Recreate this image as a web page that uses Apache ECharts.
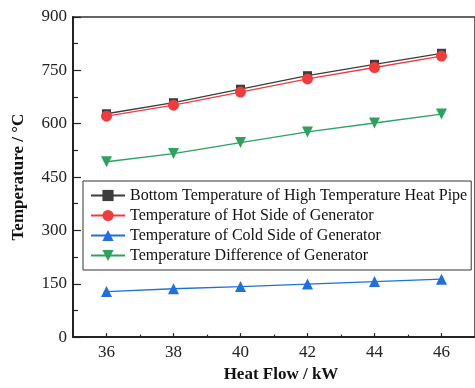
<!DOCTYPE html>
<html>
<head>
<meta charset="utf-8">
<script src="https://cdn.jsdelivr.net/npm/echarts@6/dist/echarts.min.js"></script>
<style>
  html, body { margin: 0; padding: 0; background: #fff; }
  #chart { width: 475px; height: 388px; }
</style>
</head>
<body>
<div id="chart"></div>
<script>
var heatFlow = [36, 38, 40, 42, 44, 46]
var bottomPipe = [628, 659, 697, 735, 767, 798]
var hotSide = [621, 652, 689, 726, 758, 790]
var coldSide = [128, 136, 142, 149, 156, 163]
var tempDiff = [493, 516, 547, 577, 602, 627]
var xMajor = [36, 38, 40, 42, 44, 46]
var xMinor = [37, 39, 41, 43, 45, 47]

var names = [
  'Bottom Temperature of High Temperature Heat Pipe',
  'Temperature of Hot Side of Generator',
  'Temperature of Cold Side of Generator',
  'Temperature Difference of Generator'
]

function pairs(ys) {
  return heatFlow.map(function(x, i) { return [x, ys[i]] })
}

var font = 'Liberation Serif, Times New Roman, serif'

var chart = echarts.init(document.getElementById('chart'))
chart.setOption({
  animation: false,
  textStyle: { fontFamily: font },
  grid: {
    left: 73,
    top: 17,
    bottom: 45,
    right: -5,
    show: true,
    borderColor: '#333',
    borderWidth: 1.5
  },
  legend: {
    orient: 'vertical',
    left: 83,
    top: 181,
    padding: [6.5, 4, 6.5, 7],
    itemWidth: 34,
    itemHeight: 14,
    itemGap: 4,
    borderColor: '#333',
    borderWidth: 1,
    selectedMode: false,
    backgroundColor: '#fff',
    textStyle: { fontFamily: font, fontSize: 16, color: '#111', lineHeight: 16 },
    data: names
  },
  xAxis: [
    {
      type: 'value',
      min: 35,
      max: 47,
      interval: 1,
      name: 'Heat Flow / kW',
      nameLocation: 'middle',
      nameGap: 25,
      nameTextStyle: { fontFamily: font, fontSize: 17, fontWeight: 'bold', color: '#111', padding: [0, 0, 0, 14] },
      axisLine: { lineStyle: { color: '#222', width: 2 } },
      axisTick: { inside: true, length: 4, customValues: xMajor, lineStyle: { color: '#222', width: 1.2 } },
      axisLabel: { customValues: xMajor, fontSize: 17, color: '#222', margin: 7, fontFamily: font },
      splitLine: { show: false }
    },
    {
      type: 'value',
      min: 35,
      max: 47,
      interval: 1,
      position: 'bottom',
      axisLine: { show: false },
      axisTick: { inside: true, length: 2.5, customValues: xMinor, lineStyle: { color: '#222', width: 1.2 } },
      axisLabel: { show: false },
      splitLine: { show: false }
    }
  ],
  yAxis: {
    type: 'value',
    min: 0,
    max: 900,
    interval: 150,
    name: 'Temperature / °C',
    nameLocation: 'middle',
    nameGap: 46,
    nameTextStyle: { fontFamily: font, fontSize: 17, fontWeight: 'bold', color: '#111' },
    axisLine: { show: true, lineStyle: { color: '#222', width: 2 } },
    axisTick: { inside: true, length: 8, lineStyle: { color: '#222', width: 1.2 } },
    minorTick: { show: true, splitNumber: 2, length: 5, lineStyle: { color: '#222', width: 1.2 } },
    axisLabel: { fontSize: 17, color: '#222', margin: 6, fontFamily: font },
    splitLine: { show: false }
  },
  series: [
    {
      name: names[0],
      type: 'line',
      data: pairs(bottomPipe),
      symbol: 'rect',
      symbolSize: 9,
      color: '#3d3d3d',
      lineStyle: { width: 1.3 }
    },
    {
      name: names[1],
      type: 'line',
      data: pairs(hotSide),
      symbol: 'circle',
      symbolSize: 11,
      color: '#f03c3c',
      lineStyle: { width: 1.3 }
    },
    {
      name: names[2],
      type: 'line',
      data: pairs(coldSide),
      symbol: 'triangle',
      symbolSize: 11,
      color: '#1f70dc',
      lineStyle: { width: 1.3 }
    },
    {
      name: names[3],
      type: 'line',
      data: pairs(tempDiff),
      symbol: 'triangle',
      symbolRotate: 180,
      symbolSize: 11,
      color: '#2da260',
      lineStyle: { width: 1.3 }
    }
  ]
})
</script>
</body>
</html>
